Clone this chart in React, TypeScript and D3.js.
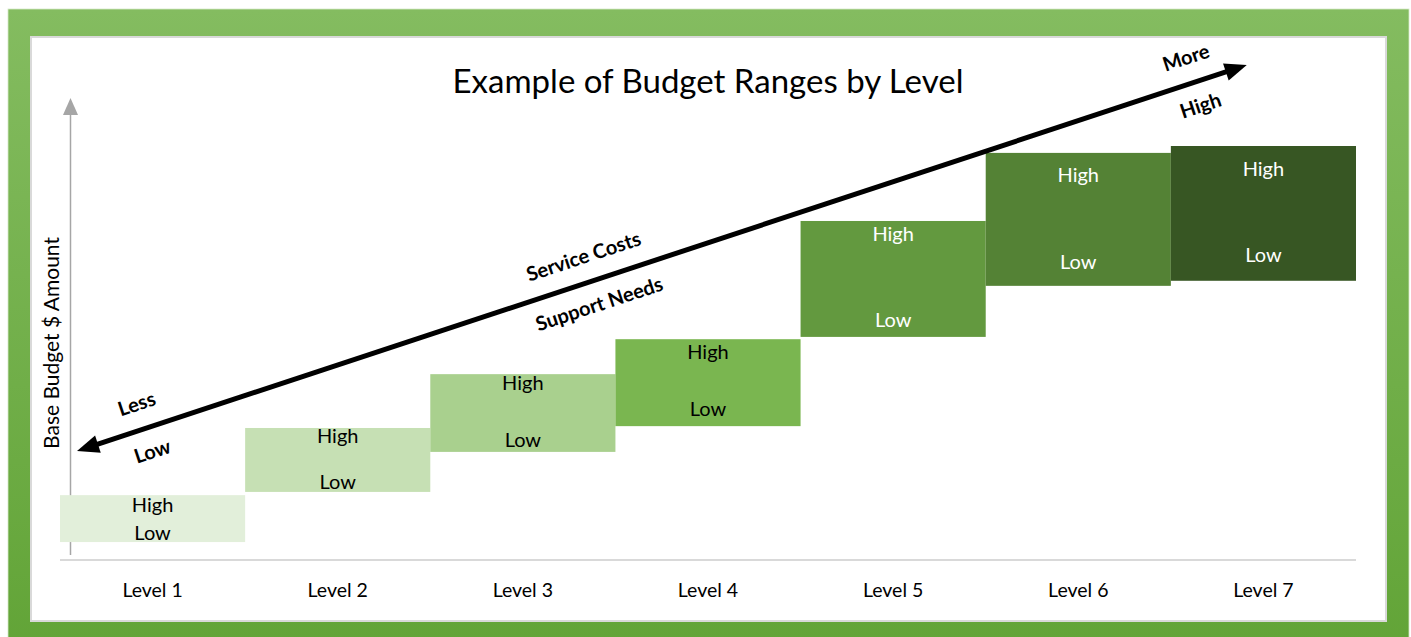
import React from "react";
import * as d3 from "d3";

const levels = ["Level 1", "Level 2", "Level 3", "Level 4", "Level 5", "Level 6", "Level 7"];
const lowValues = [3.9, 14.8, 23.5, 29.1, 48.5, 59.6, 60.7];
const highValues = [14.1, 28.7, 40.4, 48.0, 73.7, 88.5, 90.0];
const highLabelValues = [12.0, 27.0, 38.5, 45.2, 70.9, 83.7, 85.0];
const lowLabelValues = [5.9, 17.0, 26.1, 32.8, 52.2, 64.8, 66.3];
const fills = ["#e2efda", "#c6e0b4", "#a9d08e", "#7ab650", "#63993f", "#548235", "#375623"];
const labelColors = ["#000", "#000", "#000", "#000", "#fff", "#fff", "#fff"];

// arrow endpoints in (level position, value) units
const arrowFrom = { pos: 0.092, value: 23.7 };
const arrowTo = { pos: 6.41, value: 107.6 };
const arrowLabels = [
  { text: "Less", t: 0.058, side: 1 },
  { text: "Low", t: 0.058, side: -1 },
  { text: "Service Costs", t: 0.44, side: 1 },
  { text: "Support Needs", t: 0.44, side: -1 },
  { text: "More", t: 0.955, side: 1 },
  { text: "High", t: 0.954, side: -1 },
];

const title = "Example of Budget Ranges by Level";
const yTitle = "Base Budget $ Amount";

const FONT = "Lato, 'Open Sans', sans-serif";

export default function App() {
  const W = 1411, H = 637;
  const x = d3.scaleBand().domain(levels).range([60, 1356]).padding(0);
  const xc = d3.scaleLinear().domain([0, levels.length]).range([60, 1356]);
  const y = d3.scaleLinear().domain([0, 100]).range([560, 100]);

  const p0 = [xc(arrowFrom.pos), y(arrowFrom.value)];
  const p1 = [xc(arrowTo.pos), y(arrowTo.value)];
  const dx = p1[0] - p0[0], dy = p1[1] - p0[1];
  const L = Math.hypot(dx, dy);
  const u = [dx / L, dy / L];
  const n = [u[1], -u[0]]; // points up-left
  const ang = (Math.atan2(dy, dx) * 180) / Math.PI;
  const headLen = 22, headW = 9;
  const head = (tip: number[], dir: number) => {
    const bx = tip[0] - dir * u[0] * headLen, by = tip[1] - dir * u[1] * headLen;
    return `M${tip[0]},${tip[1]}L${bx + n[0] * headW},${by + n[1] * headW}L${bx - n[0] * headW},${by - n[1] * headW}Z`;
  };
  const lineStart = [p0[0] + u[0] * (headLen - 4), p0[1] + u[1] * (headLen - 4)];
  const lineEnd = [p1[0] - u[0] * (headLen - 4), p1[1] - u[1] * (headLen - 4)];

  return (
    <svg width={W} height={H} style={{ position: "absolute", left: 0, top: 0, display: "block" }}>
      <defs>
        <linearGradient id="frameGrad" x1="0" y1="0" x2="0" y2="1">
          <stop offset="0" stopColor="#84bc60" />
          <stop offset="1" stopColor="#62a437" />
        </linearGradient>
      </defs>
      <rect x={0} y={0} width={W} height={H} fill="#fff" />
      <rect x={8} y={9} width={1401} height={640} fill="url(#frameGrad)" stroke="#d6e9c8" strokeWidth={0.8} />
      <rect x={31} y={37} width={1355} height={584} fill="#fff" stroke="#d9d9d9" strokeWidth={2} />

      <text x={708} y={93} textAnchor="middle" fontFamily={FONT} fontSize={33} fill="#000">{title}</text>

      {/* y axis arrow */}
      <line x1={70.5} x2={70.5} y1={112} y2={555} stroke="#a6a6a6" strokeWidth={1.5} />
      <path d="M70.5,98L78,115L63,115Z" fill="#a6a6a6" />
      <text transform={`translate(59,${343}) rotate(-90)`} textAnchor="middle" fontFamily={FONT} fontSize={21} fill="#000">{yTitle}</text>

      {/* x axis line */}
      <line x1={60} x2={1356} y1={560} y2={560} stroke="#d9d9d9" strokeWidth={2} />

      {levels.map((lv, i) => (
        <g key={lv}>
          <rect x={x(lv)} y={y(highValues[i])} width={x.bandwidth()} height={y(lowValues[i]) - y(highValues[i])} fill={fills[i]} />
          <text x={x(lv)! + x.bandwidth() / 2} y={y(highLabelValues[i])} dy="0.35em" textAnchor="middle" fontFamily={FONT} fontSize={20} fill={labelColors[i]}>High</text>
          <text x={x(lv)! + x.bandwidth() / 2} y={y(lowLabelValues[i])} dy="0.35em" textAnchor="middle" fontFamily={FONT} fontSize={20} fill={labelColors[i]}>Low</text>
          <text x={x(lv)! + x.bandwidth() / 2} y={597} textAnchor="middle" fontFamily={FONT} fontSize={19.5} fill="#000">{lv}</text>
        </g>
      ))}

      {/* big double arrow */}
      <line x1={lineStart[0]} y1={lineStart[1]} x2={lineEnd[0]} y2={lineEnd[1]} stroke="#000" strokeWidth={5} />
      <path d={head(p0, -1)} fill="#000" />
      <path d={head(p1, 1)} fill="#000" />
      {arrowLabels.map((a) => {
        const off = a.side > 0 ? 26 : 24;
        const px = p0[0] + dx * a.t + n[0] * off * a.side;
        const py = p0[1] + dy * a.t + n[1] * off * a.side;
        return (
          <text key={a.text + a.side} transform={`translate(${px},${py}) rotate(${ang})`} textAnchor="middle" dy="0.35em" fontFamily={FONT} fontWeight="bold" fontSize={20} fill="#000">{a.text}</text>
        );
      })}
    </svg>
  );
}
